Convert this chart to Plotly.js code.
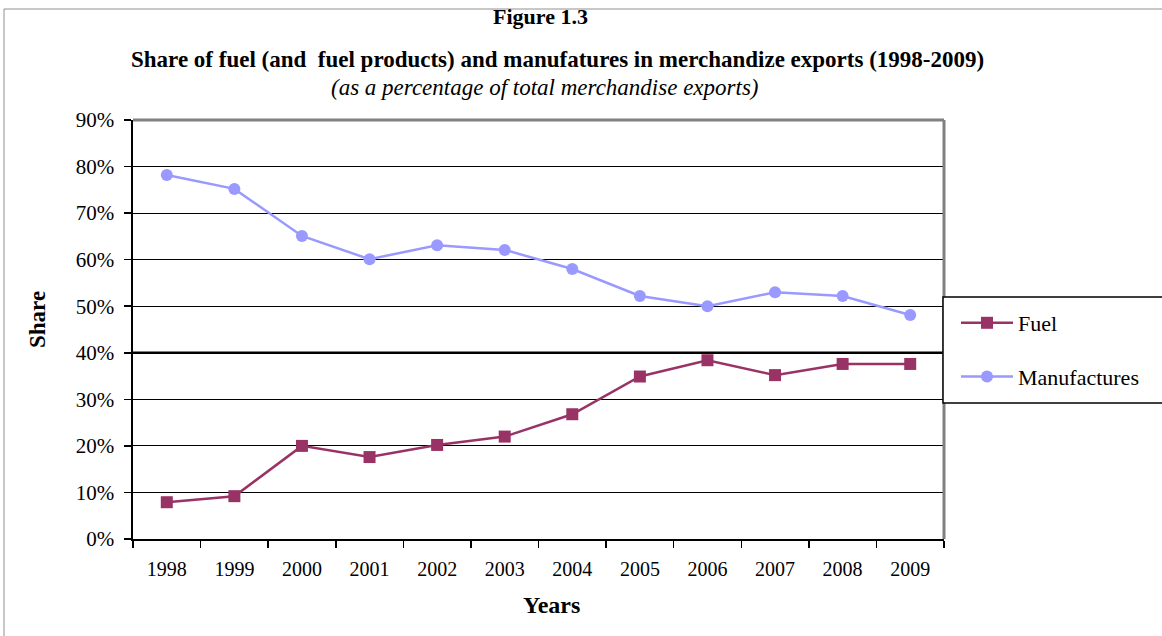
<!DOCTYPE html>
<html>
<head>
<meta charset="utf-8">
<script src="https://cdn.plot.ly/plotly-3.0.1.min.js"></script>
<style>html,body{margin:0;padding:0;background:#fff;}#chart{width:1162px;height:636px;}</style>
</head>
<body>
<div id="chart"></div>
<script>
const years = ["1998","1999","2000","2001","2002","2003","2004","2005","2006","2007","2008","2009"];
const fuel = [7.9, 9.2, 20.0, 17.6, 20.2, 22.0, 26.8, 34.9, 38.4, 35.2, 37.6, 37.6];
const manufactures = [78.2, 75.2, 65.1, 60.1, 63.1, 62.1, 58.0, 52.2, 50.0, 53.0, 52.2, 48.1];
const yTicks = [0,10,20,30,40,50,60,70,80,90];
const yTickText = yTicks.map(v => v + "%");

const serif = '"Liberation Serif", "Times New Roman", Times, serif';

// pixel helpers for annotation placement (plot area 133..944 x 120..539)
const px = v => (v - 133) / 811;
const py = v => (539 - v) / 419;

const traces = [
  {x: years, y: fuel, name: "Fuel", type: "scatter", mode: "lines+markers",
   line: {color: "#993366", width: 2.5}, marker: {symbol: "square", size: 12, color: "#993366"},
   legendgroup: "a"},
  {x: years, y: manufactures, name: "Manufactures", type: "scatter", mode: "lines+markers",
   line: {color: "#9999FF", width: 2.5}, marker: {symbol: "circle", size: 12, color: "#9999FF"},
   legendgroup: "b"}
];

const layout = {
  width: 1162, height: 636,
  margin: {l: 133, r: 218, t: 120, b: 97},
  paper_bgcolor: "#fff", plot_bgcolor: "#fff",
  font: {family: serif, color: "#000", size: 20},
  showlegend: true,
  legend: {x: px(943), xanchor: "left", y: py(302), yanchor: "top",
    borderwidth: 0, bgcolor: "rgba(0,0,0,0)",
    font: {family: serif, size: 22, color: "#000"},
    traceorder: "grouped", tracegroupgap: 22, itemwidth: 52, indentation: 13},
  xaxis: {type: "category", range: [-0.5, 11.5], showgrid: false, showline: true, linecolor: "#000", linewidth: 1.5,
    ticks: "outside", tickson: "boundaries", ticklen: 7, tickcolor: "#000", tickwidth: 1.5,
    ticklabelstandoff: 11, tickfont: {family: serif, size: 20}, fixedrange: true},
  yaxis: {range: [0, 90], tickvals: yTicks, ticktext: yTickText, showgrid: true,
    gridcolor: "#000", gridwidth: 1, showline: true, linecolor: "#000", linewidth: 2.5,
    ticks: "outside", ticklen: 7, tickcolor: "#000", tickwidth: 1.5, zeroline: false,
    ticklabelstandoff: 5, tickfont: {family: serif, size: 21}, fixedrange: true},
  shapes: [
    {type: "line", xref: "paper", yref: "y", x0: 0, x1: 1, y0: 40, y1: 40, line: {color: "#000", width: 2.5}},
    {type: "line", xref: "paper", yref: "paper", x0: 0, x1: 1, y0: 1, y1: 1, line: {color: "#808080", width: 3}},
    {type: "line", xref: "paper", yref: "paper", x0: 1, x1: 1, y0: 0, y1: 1, line: {color: "#808080", width: 3}},
    {type: "line", xref: "paper", yref: "paper", x0: px(4), x1: px(1170), y0: py(9), y1: py(9), line: {color: "#909090", width: 1}},
    {type: "line", xref: "paper", yref: "paper", x0: px(4), x1: px(4), y0: py(9), y1: py(640), line: {color: "#909090", width: 1}},
    {type: "rect", xref: "paper", yref: "paper", x0: px(943), x1: px(1175), y0: py(403), y1: py(297),
     fillcolor: "#fff", line: {color: "#000", width: 1.5}, layer: "above"}
  ],
  annotations: [
    {text: "<b>Figure 1.3</b>", xref: "paper", yref: "paper", x: px(540), y: py(17),
     xanchor: "center", yanchor: "middle", showarrow: false, font: {family: serif, size: 22}},
    {text: "<b>Share of fuel (and  fuel products) and manufatures in merchandize exports (1998-2009)</b>", xref: "paper", yref: "paper",
     x: px(557), y: py(60), xanchor: "center", yanchor: "middle", showarrow: false, font: {family: serif, size: 23}},
    {text: "<i>(as a percentage of total merchandise exports)</i>", xref: "paper", yref: "paper",
     x: px(545), y: py(87), xanchor: "center", yanchor: "middle", showarrow: false, font: {family: serif, size: 23}},
    {text: "<b>Share</b>", xref: "paper", yref: "paper", x: px(37), y: py(320), textangle: -90,
     xanchor: "center", yanchor: "middle", showarrow: false, font: {family: serif, size: 23}},
    {text: "<b>Years</b>", xref: "paper", yref: "paper", x: px(551), y: py(605),
     xanchor: "center", yanchor: "middle", showarrow: false, font: {family: serif, size: 24}}
  ]
};

Plotly.newPlot("chart", traces, layout, {displayModeBar: false, staticPlot: true});
</script>
</body>
</html>
